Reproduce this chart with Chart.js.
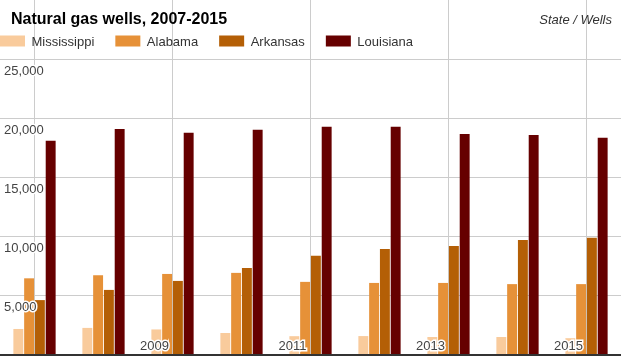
<!DOCTYPE html>
<html><head><meta charset="utf-8">
<script src="https://cdn.jsdelivr.net/npm/chart.js@4.4.1/dist/chart.umd.min.js"></script>
<style>html,body{margin:0;padding:0;background:#fff;overflow:hidden}#wrap{position:relative;width:621px;height:356px}</style>
</head><body><div id="wrap"><canvas id="c" width="621" height="356"></canvas></div>
<script>
const years = ['2007','2008','2009','2010','2011','2012','2013','2014','2015'];
const mississippi = [2200, 2290, 2160, 1860, 1590, 1600, 1520, 1520, 1420];
const alabama     = [6480, 6740, 6850, 6940, 6180, 6090, 6090, 5990, 5990];
const arkansas    = [4640, 5500, 6260, 7360, 8380, 8950, 9220, 9710, 9900];
const louisiana   = [18110, 19090, 18780, 19030, 19290, 19290, 18680, 18600, 18360];
const seriesNames = ['Mississippi', 'Alabama', 'Arkansas', 'Louisiana'];
const seriesColors = ['#f9cb9c', '#e69138', '#b45f06', '#660000'];
const yMin = 0, yMax = 30000, yStep = 5000;
const chartTitle = 'Natural gas wells, 2007-2015';
const unitLabel = 'State / Wells';

const FONT = '"Liberation Sans", Arial, Helvetica, sans-serif';
const values = [mississippi, alabama, arkansas, louisiana];

const headerPlugin = {
  id: 'header',
  afterDraw(chart) {
    const ctx = chart.ctx;
    ctx.save();
    ctx.textBaseline = 'alphabetic';
    ctx.fillStyle = '#000';
    ctx.font = 'bold 16px ' + FONT;
    ctx.textAlign = 'left';
    ctx.fillText(chartTitle, 11, 24);
    ctx.font = 'italic 13px ' + FONT;
    ctx.fillStyle = '#333';
    ctx.textAlign = 'right';
    ctx.fillText(unitLabel, 612, 24);
    ctx.textAlign = 'left';
    ctx.font = '13px ' + FONT;
    let x = 0;
    chart.data.datasets.forEach(ds => {
      ctx.fillStyle = ds.backgroundColor;
      ctx.fillRect(x, 35.5, 25, 11);
      ctx.fillStyle = '#333';
      ctx.fillText(ds.label, x + 31.5, 45.5);
      x += 31.5 + ctx.measureText(ds.label).width + 21;
    });
    ctx.restore();
  }
};

function zeroPad(s) { s.paddingTop = 0; s.paddingBottom = 0; s.paddingLeft = 0; s.paddingRight = 0; }

new Chart(document.getElementById('c'), {
  type: 'bar',
  data: {
    labels: years,
    datasets: seriesNames.map((n, i) => ({
      label: n,
      data: values[i],
      backgroundColor: seriesColors[i],
      borderWidth: 0,
      categoryPercentage: 0.625,
      barPercentage: 0.92
    }))
  },
  options: {
    responsive: false,
    animation: false,
    devicePixelRatio: 1,
    layout: { padding: 0 },
    plugins: { legend: { display: false }, title: { display: false }, tooltip: { enabled: false } },
    scales: {
      x: {
        grid: {
          offset: false,
          drawTicks: false,
          lineWidth: 1,
          color: c => (c.index % 2 === 0 ? '#cccccc' : 'rgba(0,0,0,0)')
        },
        border: { display: true, color: '#333333', width: 2, z: 1 },
        ticks: {
          z: 2,
          autoSkip: false,
          maxRotation: 0,
          minRotation: 0,
          mirror: true,
          padding: 1,
          labelOffset: -18,
          color: '#444',
          font: { size: 13, family: FONT },
          textStrokeColor: '#ffffff',
          textStrokeWidth: 3,
          callback: (v, i) => (i > 0 && i % 2 === 0 ? years[i] : '')
        },
        afterFit: s => { s.height = 1; zeroPad(s); }
      },
      y: {
        min: yMin,
        max: yMax,
        grid: {
          drawTicks: false,
          lineWidth: 1,
          color: c => (c.tick && (c.tick.value === yMin || c.tick.value === yMax) ? 'rgba(0,0,0,0)' : '#cccccc')
        },
        border: { display: false },
        ticks: {
          z: 2,
          stepSize: yStep,
          mirror: true,
          padding: 4,
          labelOffset: 12,
          color: '#444',
          font: { size: 13, family: FONT },
          textStrokeColor: '#ffffff',
          textStrokeWidth: 3,
          callback: v => (v === yMin || v === yMax ? '' : v.toLocaleString('en-US'))
        },
        afterFit: s => { s.width = 0; zeroPad(s); }
      }
    }
  },
  plugins: [headerPlugin]
});
</script>
</body></html>
